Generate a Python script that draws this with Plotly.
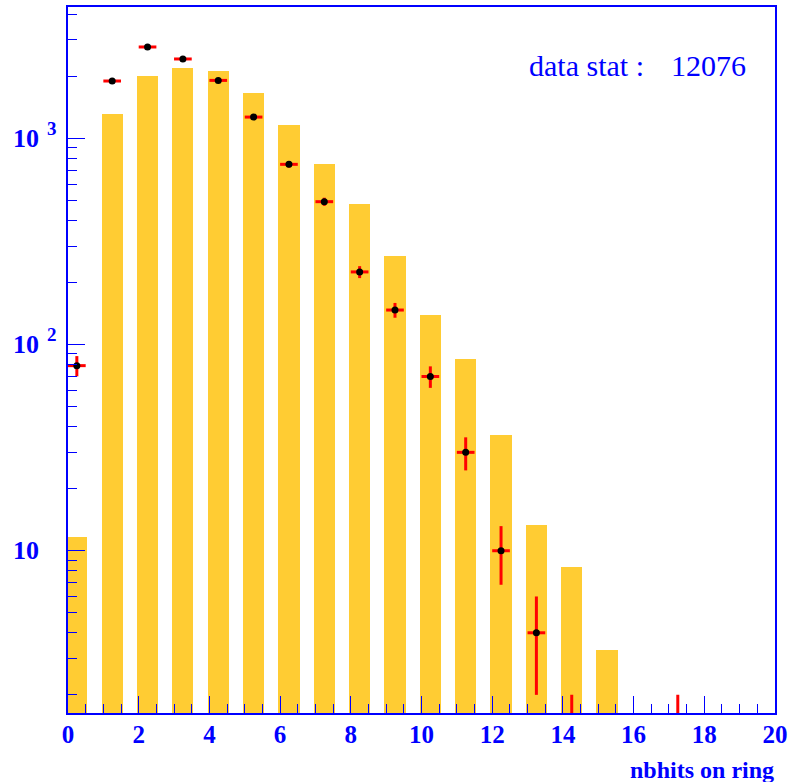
import math
import plotly.graph_objects as go

# ---- data ----
bins = list(range(20))
mc_counts = [11.6, 1312, 2005, 2194, 2123, 1660, 1160, 750, 482, 268,
             139, 85, 36.4, 13.3, 8.3, 3.3, 0, 0, 0, 0]
data_counts = [79, 1897, 2774, 2426, 1910, 1268, 748, 493, 225, 147,
               70, 30, 10, 4, 1, 0, 0, 1, 0, 0]
x_ticks = [0, 2, 4, 6, 8, 10, 12, 14, 16, 18, 20]
y_decades = [10, 100, 1000]
y_exponents = ["", "2", "3"]
stat_label = "data stat :"
stat_value = "12076"
x_title = "nbhits on ring"

BLUE = "#0000ff"
FONT = "Liberation Serif"
W, H = 789, 782
L, R, T, B = 68, 14, 7, 69
PW = W - L - R
PH = H - T - B

bar_x = [b + 0.25 for b, v in zip(bins, mc_counts) if v > 0]
bar_y = [v for v in mc_counts if v > 0]

pt_x = [b + 0.25 for b, v in zip(bins, data_counts) if v > 0]
pt_y = [v for v in data_counts if v > 0]
err_up = [math.sqrt(v) for v in pt_y]
err_dn = [min(math.sqrt(v), 0.999 * v) for v in pt_y]

fig = go.Figure()
fig.add_trace(go.Bar(
    x=bar_x, y=bar_y, width=0.6,
    marker=dict(color="#ffcc33", line=dict(width=0)),
    showlegend=False,
))
fig.add_trace(go.Scatter(
    x=pt_x, y=pt_y, mode="markers",
    marker=dict(color="black", size=7, symbol="circle"),
    error_x=dict(type="constant", value=0.25, color="red", thickness=3, width=0),
    error_y=dict(type="data", array=err_up, arrayminus=err_dn, symmetric=False,
                 color="red", thickness=3, width=0),
    showlegend=False,
))

fig.update_layout(
    width=W, height=H,
    margin=dict(l=L, r=R, t=T, b=B, autoexpand=False),
    paper_bgcolor="white", plot_bgcolor="white",
    bargap=0,
)
fig.update_xaxes(
    range=[0, 20], showgrid=False, zeroline=False,
    showline=True, linecolor=BLUE, linewidth=2, mirror=True,
    tickmode="array", tickvals=x_ticks, ticktext=[str(t) for t in x_ticks],
    ticks="inside", ticklen=17, tickcolor=BLUE, tickwidth=1,
    minor=dict(dtick=0.5, ticks="inside", ticklen=9, tickcolor=BLUE, tickwidth=1, showgrid=False),
    tickfont=dict(family=FONT, size=25, color=BLUE, weight="bold"),
    ticklabelstandoff=-2,
)
fig.update_yaxes(
    type="log", range=[0.213, 3.637], showgrid=False, zeroline=False,
    showline=True, linecolor=BLUE, linewidth=2, mirror=True,
    dtick=1, ticks="inside", ticklen=17, tickcolor=BLUE, tickwidth=1,
    minor=dict(dtick="D1", ticks="inside", ticklen=9, tickcolor=BLUE, tickwidth=1, showgrid=False),
    showticklabels=False,
)

ann = []
for v, e in zip(y_decades, y_exponents):
    ann.append(dict(x=(11 - L) / PW, xref="paper", y=math.log10(v), yref="y",
                    text="10", showarrow=False, xanchor="left", yanchor="middle",
                    font=dict(family=FONT, size=26, color=BLUE, weight="bold")))
    if e:
        ann.append(dict(x=(45 - L) / PW, xref="paper", y=math.log10(v), yref="y",
                        yshift=10, text=e, showarrow=False, xanchor="left", yanchor="middle",
                        font=dict(family=FONT, size=19, color=BLUE, weight="bold")))
ann.append(dict(x=(646 - L) / PW, xref="paper", y=1 - (66 - T) / PH, yref="paper",
                text=stat_label, showarrow=False, xanchor="right", yanchor="middle",
                font=dict(family=FONT, size=30, color=BLUE)))
ann.append(dict(x=(669 - L) / PW, xref="paper", y=1 - (66 - T) / PH, yref="paper",
                text=stat_value, showarrow=False, xanchor="left", yanchor="middle",
                font=dict(family=FONT, size=30, color=BLUE)))
ann.append(dict(x=(776 - L) / PW, xref="paper", y=1 - (770 - T) / PH, yref="paper",
                text=x_title, showarrow=False, xanchor="right", yanchor="middle",
                font=dict(family=FONT, size=24, color=BLUE, weight="bold")))
fig.update_layout(annotations=ann)

fig.write_html(
    "out.html",
    config={"responsive": False, "displayModeBar": False},
    post_script="document.body.style.margin='0';document.body.style.overflow='hidden';",
)
